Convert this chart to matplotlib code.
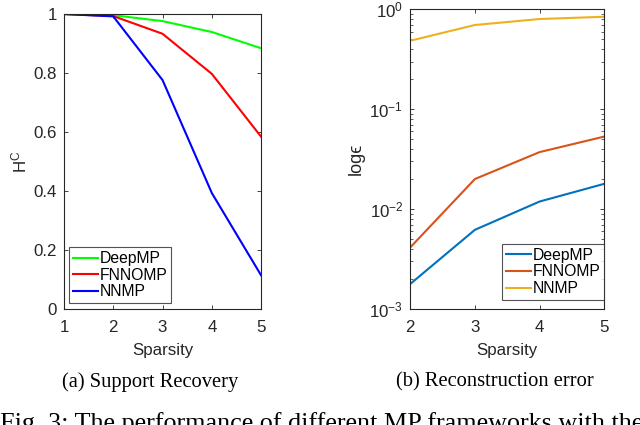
import numpy as np
import matplotlib
matplotlib.use('Agg')
import matplotlib.pyplot as plt
from matplotlib.ticker import LogLocator, NullFormatter

# data
sparsity_a = [1, 2, 3, 4, 5]
deepmp_a = [1.0, 0.996, 0.976, 0.939, 0.884]
fnnomp_a = [1.0, 0.993, 0.933, 0.797, 0.584]
nnmp_a = [1.0, 0.992, 0.776, 0.393, 0.114]

sparsity_b = [2, 3, 4, 5]
deepmp_b = [0.00178, 0.0062, 0.0119, 0.0179]
fnnomp_b = [0.00413, 0.0200, 0.0372, 0.0532]
nnmp_b = [0.485, 0.697, 0.80, 0.843]

labels = ['DeepMP', 'FNNOMP', 'NNMP']

plt.rcParams.update({
    'font.family': ['Liberation Sans', 'DejaVu Sans'],
    'font.size': 12.2,
    'mathtext.fontset': 'custom',
    'mathtext.rm': 'Liberation Sans',
    'mathtext.it': 'Liberation Sans:italic',
    'mathtext.sf': 'Liberation Sans',
    'axes.linewidth': 0.8,
    'axes.edgecolor': '#262626',
    'xtick.color': '#262626',
    'ytick.color': '#262626',
    'xtick.direction': 'in',
    'ytick.direction': 'in',
    'xtick.top': True,
    'ytick.right': True,
})

fig = plt.figure(figsize=(6.4, 4.25), dpi=100)
ax1 = fig.add_axes([0.100, 0.273, 0.308, 0.694])
ax2 = fig.add_axes([0.641, 0.273, 0.303, 0.705])

# (a) support recovery
for y, c, lab in zip([deepmp_a, fnnomp_a, nnmp_a], ['#00ff00', '#ff0000', '#0000ff'], labels):
    ax1.plot(sparsity_a, y, color=c, lw=1.5, label=lab)
ax1.set_xlim(1, 5)
ax1.set_ylim(0, 1)
ax1.set_xticks([1, 2, 3, 4, 5])
ax1.set_yticks([0, 0.2, 0.4, 0.6, 0.8, 1])
ax1.set_yticklabels(['0', '0.2', '0.4', '0.6', '0.8', '1'])
ax1.set_xlabel('Sparsity', color='#262626', labelpad=6)
ax1.set_ylabel(r'H$^{\mathrm{C}}$', color='#262626', labelpad=3)
ax1.tick_params(length=3, width=0.6, pad=5)
ax1.tick_params(axis='x', pad=8)
leg1 = ax1.legend(loc='lower left', bbox_to_anchor=(0.025, 0.02), handlelength=1.6,
                  handletextpad=0.1, labelspacing=0.1, borderpad=0.25, fancybox=False,
                  edgecolor='#262626', borderaxespad=0.0, fontsize=11.3)
leg1.get_frame().set_linewidth(0.8)

# (b) reconstruction error
for y, c, lab in zip([deepmp_b, fnnomp_b, nnmp_b], ['#0072bd', '#d95319', '#edb120'], labels):
    ax2.plot(sparsity_b, y, color=c, lw=1.5, label=lab)
ax2.set_yscale('log')
ax2.set_xlim(2, 5)
ax2.set_ylim(1e-3, 1)
ax2.set_xticks([2, 3, 4, 5])
ax2.yaxis.set_minor_locator(LogLocator(base=10, subs=np.arange(2, 10)))
ax2.yaxis.set_minor_formatter(NullFormatter())
ax2.set_xlabel('Sparsity', color='#262626', labelpad=6)
ax2.set_ylabel('logϵ', color='#262626', labelpad=3, fontsize=13)
ax2.tick_params(which='major', length=3, width=0.6, pad=5)
ax2.tick_params(axis='x', pad=8)
ax2.tick_params(which='minor', length=2, width=0.5)
leg2 = ax2.legend(loc='lower right', bbox_to_anchor=(1.0, 0.03), handlelength=1.6,
                  handletextpad=0.1, labelspacing=0.1, borderpad=0.25, fancybox=False,
                  edgecolor='#262626', borderaxespad=0.0, fontsize=11.3)
leg2.get_frame().set_linewidth(0.8)

# captions
fig.text(0.234, 0.101, '(a) Support Recovery', family='Liberation Serif',
         fontsize=14.8, ha='center', va='center')
fig.text(0.773, 0.101, '(b) Reconstruction error', family='Liberation Serif',
         fontsize=14.8, ha='center', va='center')
fig.text(0.503, -0.012, 'Fig. 3: The performance of different MP frameworks with the',
         family='Liberation Serif', fontsize=18.8, ha='center', va='baseline')

fig.savefig('out.png', dpi=100, facecolor='white')
